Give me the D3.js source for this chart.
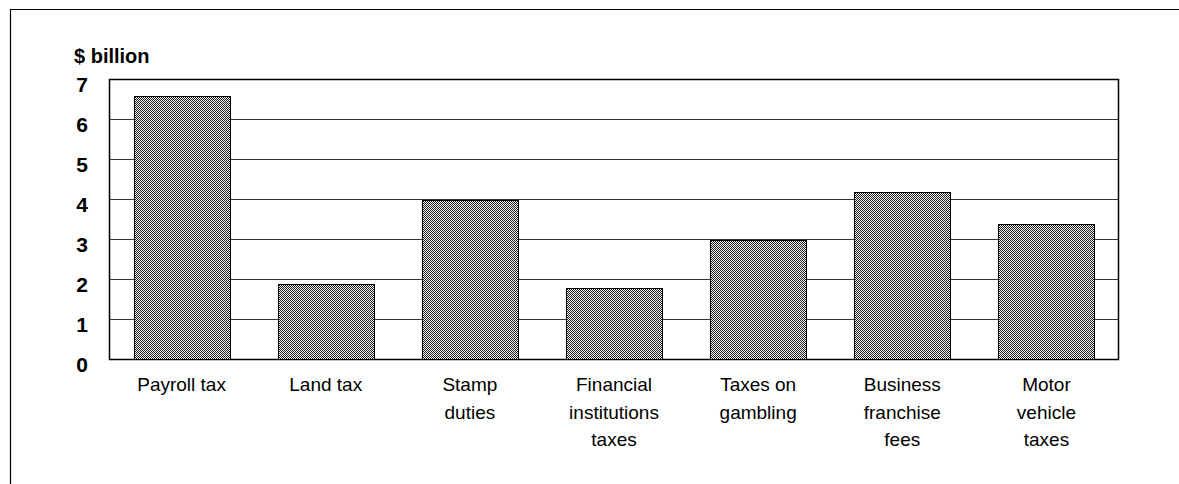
<!DOCTYPE html>
<html>
<head>
<meta charset="utf-8">
<script src="https://cdn.jsdelivr.net/npm/d3@7"></script>
<style>
  html, body { margin: 0; padding: 0; background: #fff; }
  svg { display: block; font-family: "Liberation Sans", Arial, Helvetica, sans-serif; }
</style>
</head>
<body>
<svg id="chart" width="1179" height="484"></svg>
<script>
// Revenue by tax type, $ billion
const categories = [
  ["Payroll tax"],
  ["Land tax"],
  ["Stamp", "duties"],
  ["Financial", "institutions", "taxes"],
  ["Taxes on", "gambling"],
  ["Business", "franchise", "fees"],
  ["Motor", "vehicle", "taxes"]
];
const values = [6.6, 1.9, 4.0, 1.8, 3.0, 4.2, 3.4];
const yTicks = [0, 1, 2, 3, 4, 5, 6, 7];
const yTitle = "$ billion";

const svg = d3.select("#chart");
const W = 1179, H = 484;
const plot = { left: 109.5, top: 79.5, right: 1118.5, bottom: 359.5 };

// Fine checkered fill for the bars
const defs = svg.append("defs");
const pat = defs.append("pattern")
  .attr("id", "dots")
  .attr("patternUnits", "userSpaceOnUse")
  .attr("width", 2).attr("height", 2);
pat.append("rect").attr("width", 2).attr("height", 2).attr("fill", "#f4f4f4");
pat.append("rect").attr("x", 0).attr("y", 0).attr("width", 1).attr("height", 1).attr("fill", "#1e1e1e");
pat.append("rect").attr("x", 1).attr("y", 1).attr("width", 1).attr("height", 1).attr("fill", "#1e1e1e");

// Outer frame (top and left edges)
svg.append("path")
  .attr("d", `M10.5,${H} V9.5 H${W}`)
  .attr("fill", "none").attr("stroke", "#000").attr("stroke-width", 1.2);

const x = d3.scaleBand()
  .domain(d3.range(categories.length))
  .range([plot.left, plot.right])
  .paddingInner(1 / 3)
  .paddingOuter(1 / 6);

const y = d3.scaleLinear()
  .domain([0, 7])
  .range([plot.bottom, plot.top]);

// Horizontal gridlines
svg.append("g")
  .selectAll("line")
  .data(yTicks.filter(d => d > 0 && d < 7))
  .join("line")
  .attr("x1", plot.left).attr("x2", plot.right)
  .attr("y1", d => y(d)).attr("y2", d => y(d))
  .attr("stroke", "#333").attr("stroke-width", 1);

// Plot area border
svg.append("rect")
  .attr("x", plot.left).attr("y", plot.top)
  .attr("width", plot.right - plot.left)
  .attr("height", plot.bottom - plot.top)
  .attr("fill", "none").attr("stroke", "#000").attr("stroke-width", 1.5);

// Bars
svg.append("g")
  .selectAll("rect")
  .data(values)
  .join("rect")
  .attr("x", (d, i) => Math.round(x(i)) + 0.5)
  .attr("width", Math.round(x.bandwidth()))
  .attr("y", d => Math.round(y(d)) + 0.5)
  .attr("height", d => y(0) - Math.round(y(d)) - 0.5)
  .attr("fill", "url(#dots)")
  .attr("stroke", "#000").attr("stroke-width", 1);

// Y axis labels
const yAxis = d3.axisLeft(y).tickValues(yTicks).tickFormat(d3.format("d")).tickSize(0).tickPadding(0);
const gy = svg.append("g")
  .attr("transform", `translate(88,0)`)
  .call(yAxis);
gy.select(".domain").remove();
gy.selectAll("text")
  .attr("font-family", "Liberation Sans, Arial, sans-serif")
  .attr("font-size", 21)
  .attr("font-weight", "bold")
  .attr("fill", "#000")
  .attr("dy", "0.55em");

// Axis title
svg.append("text")
  .attr("x", 74).attr("y", 63)
  .attr("font-size", 20).attr("font-weight", "bold")
  .text(yTitle);

// Category labels
const cat = svg.append("g")
  .selectAll("text")
  .data(categories)
  .join("text")
  .attr("text-anchor", "middle")
  .attr("font-size", 19)
  .attr("fill", "#000")
  .attr("transform", (d, i) => `translate(${x(i) + x.bandwidth() / 2},391)`);
cat.selectAll("tspan")
  .data(d => d)
  .join("tspan")
  .attr("x", 0)
  .attr("y", (d, i) => i * 27.5)
  .text(d => d);
</script>
</body>
</html>
